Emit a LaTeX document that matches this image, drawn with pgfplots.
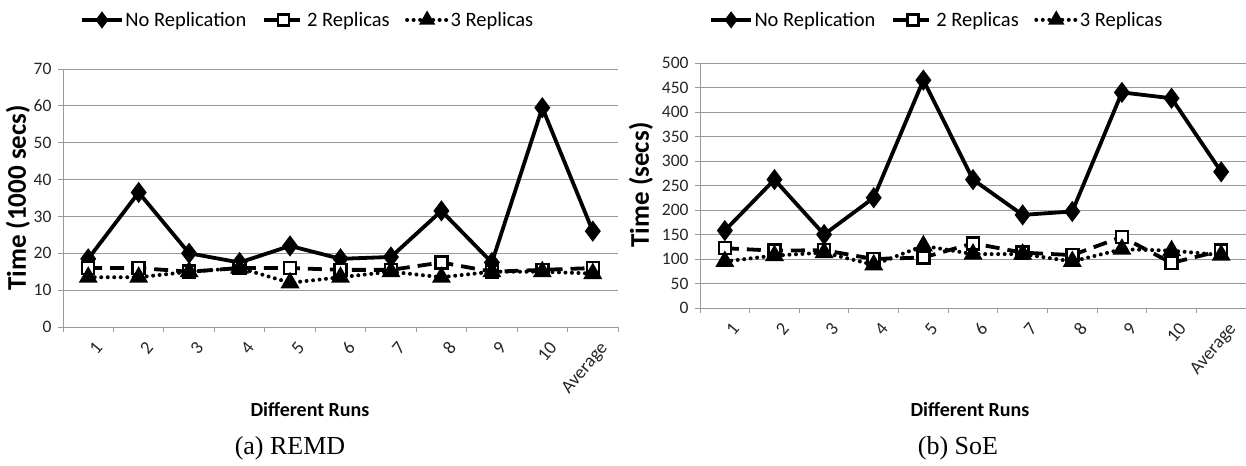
\documentclass[border=0pt]{standalone}
\usepackage{pgfplots}
\pgfplotsset{compat=1.18}
\usepackage{fontspec}
\setmainfont{Carlito}
\newfontfamily\serifcap{Liberation Serif}

\begin{document}
\begin{tikzpicture}
\useasboundingbox (0bp,0bp) rectangle (1246bp,466bp);
\pgfplotsset{
 cmn/.style={scale only axis, axis x line*=bottom, axis y line*=left,
   xmin=-0.5, xmax=10.5, ymin=0,
   xtick={0,...,10}, xticklabels={1,2,3,4,5,6,7,8,9,10,Average},
   minor xtick={-0.5,0.5,...,10.5},
   major tick length=0pt, minor tick length=5bp, tick align=outside,
   ymajorgrids, grid style={draw=black!40, line width=0.9bp},
   axis line style={draw=black!40, line width=0.9bp},
   minor tick style={draw=black!40, line width=0.9bp},
   tick label style={text=black!85},
   yticklabel style={font=\fontsize{17.5bp}{19bp}\selectfont, xshift=-8bp},
   /pgf/number format/assume math mode=true,
   xticklabel style={font=\fontsize{18.5bp}{20bp}\selectfont, rotate=50, anchor=north east, yshift=-10bp, xshift=-3bp},
   legend columns=3,
   legend style={draw=none, fill=none, anchor=west,
     font=\fontsize{20.5bp}{22bp}\selectfont,
     /tikz/every even column/.append style={column sep=14bp},
     nodes={inner sep=1.5bp}},
   legend image code/.code={\draw[mark repeat=2,mark phase=2,mark size=5.5bp] plot coordinates {(0bp,0bp) (20bp,0bp) (40bp,0bp)};},
   clip=false,
 },
 s1/.style={black, line width=3.8bp, mark=diamond*, mark size=7.5bp, mark options={solid}},
 s2/.style={black, line width=3.8bp, dash pattern=on 14bp off 8bp, mark=square*, mark size=6bp, mark options={solid, fill=white, line width=2.5bp}},
 s3/.style={black, line width=4bp, line cap=round, dash pattern=on 0bp off 6.5bp, mark=triangle*, mark size=7bp, mark options={solid}},
}

\begin{axis}[cmn, at={(63bp,139bp)}, anchor=south west, width=555bp, height=258bp,
  ymax=70, ytick={0,10,...,70}, minor ytick={0,10,...,70},
  legend style={at={(0.025,1.19)}}]
\addplot[s1] coordinates {(0,18.5)(1,36.5)(2,20)(3,17.5)(4,22)(5,18.5)(6,19)(7,31.5)(8,17.5)(9,59.5)(10,26)};
\addplot[s2] coordinates {(0,16)(1,16)(2,15)(3,16)(4,16)(5,15.5)(6,15.5)(7,17.5)(8,15)(9,15.5)(10,16)};
\addplot[s3] coordinates {(0,13.5)(1,13.5)(2,15)(3,16)(4,12)(5,13.5)(6,15)(7,13.5)(8,15)(9,15)(10,14.5)};
\legend{No Replication, 2 Replicas, 3 Replicas}
\end{axis}

\begin{axis}[cmn, at={(700bp,158bp)}, anchor=south west, width=546bp, height=245bp,
  ymax=500, ytick={0,50,...,500}, minor ytick={0,50,...,500},
  legend style={at={(0.011,1.176)}}]
\addplot[s1] coordinates {(0,158)(1,262)(2,150)(3,225)(4,465)(5,262)(6,190)(7,197)(8,440)(9,428)(10,278)};
\addplot[s2] coordinates {(0,122)(1,117)(2,118)(3,100)(4,103)(5,132)(6,113)(7,108)(8,145)(9,92)(10,117)};
\addplot[s3] coordinates {(0,95)(1,107)(2,113)(3,88)(4,127)(5,110)(6,110)(7,95)(8,120)(9,117)(10,108)};
\legend{No Replication, 2 Replicas, 3 Replicas}
\end{axis}

\node[font=\bfseries\fontsize{27bp}{30bp}\selectfont, rotate=90] at (18bp,268bp) {Time (1000 secs)};
\node[font=\bfseries\fontsize{27bp}{30bp}\selectfont, rotate=90] at (641bp,281bp) {Time (secs)};
\node[font=\bfseries\fontsize{20bp}{22bp}\selectfont] at (310bp,56bp) {Different Runs};
\node[font=\bfseries\fontsize{20bp}{22bp}\selectfont] at (970bp,56bp) {Different Runs};
\node[font=\serifcap\fontsize{26bp}{28bp}\selectfont] at (290bp,18bp) {(a) REMD};
\node[font=\serifcap\fontsize{26bp}{28bp}\selectfont] at (958bp,18bp) {(b) SoE};
\end{tikzpicture}
\end{document}
